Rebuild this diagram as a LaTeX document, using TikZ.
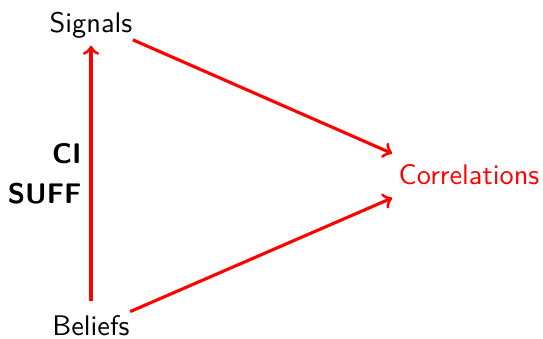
\documentclass[tikz,border=0pt]{standalone}
\usepackage{fontspec}
\begin{document}
\begin{tikzpicture}[x=0.3528pt,y=-0.3528pt,
  lbl/.style={font=\sffamily, anchor=base, inner sep=0pt},
  arr/.style={->, red, line width=1.1pt}]
\useasboundingbox (0,0) rectangle (543,338);
\node[lbl] (Signals) at (91,32) {Signals};
\node[lbl] (Beliefs) at (91,335) {Beliefs};
\node[lbl, red] (Correlations) at (469,184) {Correlations};
\node[lbl, anchor=base east, font=\sffamily\bfseries] (CI) at (82,163) {CI};
\node[lbl, anchor=base east, font=\sffamily\bfseries] (SUFF) at (82,203) {SUFF};
\coordinate (bN) at ([yshift=4.6pt]Beliefs.north);
\coordinate (sS) at ([yshift=-2.6pt]Signals.south);
\coordinate (sE) at ([yshift=-0.5pt]Signals.south east);
\coordinate (bE) at ([yshift=1pt]Beliefs.north east);
\coordinate (cT) at ([xshift=-2.1pt,yshift=3.5pt]Correlations.north west);
\coordinate (cB) at ([xshift=-2.1pt,yshift=-4.6pt]Correlations.south west);
\draw[arr] (bN) -- (sS);
\draw[arr] (sE) -- (cT);
\draw[arr] (bE) -- (cB);
\end{tikzpicture}
\end{document}
